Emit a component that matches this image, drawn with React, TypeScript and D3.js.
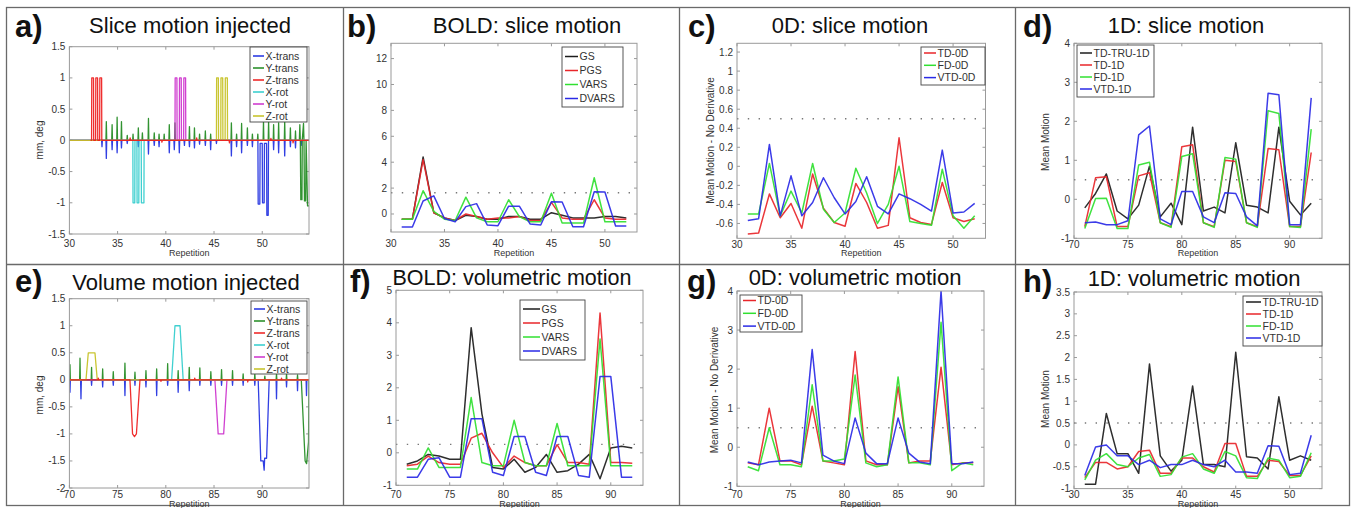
import React from "react";
import * as d3 from "d3";

const FONT = "'Liberation Sans', Arial, Helvetica, sans-serif";

// ---------- repetitions ----------
const repsSlice = [31, 32, 33, 34, 35, 36, 37, 38, 39, 40, 41, 42, 43, 44, 45, 46, 47, 48, 49, 50, 51, 52];
const repsVol = [71, 72, 73, 74, 75, 76, 77, 78, 79, 80, 81, 82, 83, 84, 85, 86, 87, 88, 89, 90, 91, 92];

// ---------- tick labels ----------
const xTicksSlice = [30, 35, 40, 45, 50];
const xTicksVol = [70, 75, 80, 85, 90];
const yTicksA = [-1.5, -1, -0.5, 0, 0.5, 1, 1.5];
const yTicksB = [0, 2, 4, 6, 8, 10, 12];
const yTicksC = [-0.6, -0.4, -0.2, 0, 0.2, 0.4, 0.6, 0.8, 1, 1.2];
const yTicksD = [-1, 0, 1, 2, 3, 4];
const yTicksE = [-2, -1.5, -1, -0.5, 0, 0.5, 1, 1.5];
const yTicksF = [-1, 0, 1, 2, 3, 4, 5];
const yTicksG = [-1, 0, 1, 2, 3, 4];
const yTicksH = [-1, -0.5, 0, 0.5, 1, 1.5, 2, 2.5, 3, 3.5];

// ---------- a) slice motion injected ----------
const aXtransSpikes: [number, number][] = [[33.38, -0.1], [33.83, -0.29], [34.43, -0.15], [34.95, -0.2], [35.4, -0.12], [36.0, -0.05], [37.15, -0.1], [38.2, -0.22], [38.8, -0.08], [39.3, -0.1], [40.36, -0.2], [40.88, -0.15], [41.4, -0.2], [41.93, -0.08], [42.45, -0.1], [42.97, -0.12], [43.5, -0.06], [44.1, -0.08], [44.65, -0.15], [45.25, -0.05], [46.8, -0.25], [47.34, -0.1], [47.86, -0.2], [48.46, -0.08], [48.98, -0.1], [51.18, -0.15], [51.7, -0.2], [52.33, -0.25], [52.92, -0.1], [53.45, -0.12], [54.04, -0.08]];
const aXtransPulse: [number, number][] = [[49.55, 0], [49.58, -1.02], [49.75, -1.02], [49.78, -0.05], [50.0, -0.05], [50.03, -1.0], [50.2, -1.0], [50.23, -0.05], [50.45, -0.05], [50.48, -1.2], [50.62, -1.2], [50.65, 0]];
const aYtransSpikes: [number, number][] = [[33.83, 0.3], [34.43, 0.25], [34.95, 0.37], [35.4, 0.3], [36.0, 0.08], [36.6, 0.1], [37.15, 0.2], [37.57, 0.12], [38.2, 0.35], [38.8, 0.12], [39.3, 0.1], [39.83, 0.1], [40.36, 0.25], [40.95, 0.28], [42.45, 0.22], [42.97, 0.2], [43.5, 0.1], [44.1, 0.15], [44.65, 0.1], [46.8, 0.28], [47.34, 0.1], [47.86, 0.27], [48.46, 0.2], [48.98, 0.1], [49.54, 0.1], [50.13, 0.3], [50.66, 0.3], [51.18, 0.25], [51.7, 0.28], [52.33, 0.3], [52.92, 0.2], [53.45, 0.15]];
const aYtransPulse: [number, number][] = [[53.85, 0], [53.9, 0.25], [53.95, 0], [54.0, -0.95], [54.12, -0.95], [54.15, 0], [54.28, 0.27], [54.33, 0], [54.38, -0.97], [54.5, -0.97], [54.55, 0], [54.7, -1.05], [54.85, -1.05]];
const aZtransSpikes: [number, number][] = [[36.3, 0.04], [39.6, -0.03], [43.2, 0.04], [46.6, -0.04], [50.9, 0.03], [53.2, -0.04]];
const aZtransPulse: [number, number][] = [[32.3, 0], [32.32, 1], [32.5, 1], [32.52, 0], [32.72, 0], [32.74, 1], [32.92, 1], [32.94, 0], [33.14, 0], [33.16, 1], [33.34, 1], [33.36, 0]];
const aXrotPulse: [number, number][] = [[36.58, 0], [36.6, -1], [36.78, -1], [36.8, 0], [37.0, 0], [37.02, -1], [37.2, -1], [37.22, 0], [37.45, 0], [37.47, -1], [37.73, -1], [37.75, 0]];
const aYrotPulse: [number, number][] = [[40.95, 0], [40.97, 1], [41.15, 1], [41.17, 0], [41.4, 0], [41.42, 1], [41.6, 1], [41.62, 0], [41.85, 0], [41.87, 1], [42.05, 1], [42.07, 0]];
const aZrotPulse: [number, number][] = [[45.25, 0], [45.27, 1], [45.45, 1], [45.47, 0], [45.7, 0], [45.72, 1], [45.9, 1], [45.92, 0], [46.15, 0], [46.17, 1], [46.38, 1], [46.4, 0]];

// ---------- e) volume motion injected ----------
const eXtransSpikes: [number, number][] = [[70.06, -0.23], [71.2, -0.35], [72.3, -0.1], [73.45, -0.13], [74.55, -0.1], [75.76, -0.29], [76.8, -0.1], [77.94, -0.13], [79.05, -0.29], [80.19, -0.1], [81.28, -0.23], [82.43, -0.2], [83.53, -0.1], [84.67, -0.1], [85.78, -0.1], [86.92, -0.1], [88.02, -0.1], [89.23, -0.1], [91.48, -0.35], [92.52, -0.13], [93.66, -0.2], [94.59, -0.29]];
const eXtransPulse: [number, number][] = [[89.58, 0], [89.85, -1.5], [90.1, -1.5], [90.2, -1.67], [90.25, -1.45], [90.45, -1.45], [90.72, 0]];
const eYtransSpikes: [number, number][] = [[70.06, 0.28], [71.1, 0.4], [72.3, 0.23], [73.45, 0.2], [74.55, 0.15], [75.76, 0.31], [76.8, 0.14], [77.94, 0.17], [79.05, 0.2], [80.19, 0.3], [81.28, 0.17], [82.43, 0.23], [83.53, 0.22], [84.67, 0.15], [85.78, 0.19], [86.92, 0.17], [88.02, 0.11], [89.23, 0.11], [90.27, 0.07], [91.48, 0.11], [92.52, 0.11], [93.66, 0.09]];
const eYtransPulse: [number, number][] = [[94.05, 0], [94.45, -1.5], [94.6, -1.55], [94.8, -1.15]];
const eZtransSpikes: [number, number][] = [[73.0, 0.03], [79.5, -0.03], [83.0, 0.03], [88.5, -0.04], [92.0, 0.03]];
const eZtransPulse: [number, number][] = [[76.28, 0], [76.55, -1], [76.75, -1.05], [76.95, -1], [77.32, 0]];
const eXrotPulse: [number, number][] = [[80.6, 0], [80.95, 1], [81.47, 1], [81.8, 0]];
const eYrotPulse: [number, number][] = [[85.09, 0], [85.43, -1], [86.0, -1], [86.34, 0]];
const eZrotPulse: [number, number][] = [[71.72, 0], [71.96, 0.5], [72.65, 0.5], [72.89, 0]];

// ---------- b) BOLD: slice motion ----------
const bGS = [-0.4, -0.4, 4.4, 0.1, -0.3, -0.5, -0.1, -0.2, -0.4, -0.4, -0.2, -0.2, -0.4, -0.4, 0.1, -0.1, -0.3, -0.3, -0.3, -0.2, -0.2, -0.3];
const bPGS = [-0.4, -0.4, 4.2, 0.1, -0.3, -0.5, 0.0, -0.2, -0.4, -0.3, -0.3, -0.2, -0.5, -0.5, 0.9, -0.3, -0.4, -0.4, 1.1, -0.3, -0.4, -0.4];
const bVARS = [-0.4, -0.4, 1.8, 0.2, -0.4, -0.5, 1.3, -0.3, -0.6, -0.6, 1.1, -0.2, -0.6, -0.6, 1.6, -0.7, -0.7, -0.7, 2.8, -0.6, -0.6, -0.6];
const bDVARS = [-1.0, -1.0, 1.0, 1.4, -0.35, -0.6, 0.57, 0.8, -0.85, -0.9, 0.6, 0.6, -0.77, -0.85, 0.95, 0.93, -0.98, -0.98, 1.72, 1.7, -0.93, -0.93];

// ---------- c) 0D: slice motion ----------
const cTD = [-0.71, -0.70, -0.29, -0.54, -0.39, -0.65, -0.08, -0.44, -0.59, -0.63, -0.18, -0.38, -0.65, -0.62, 0.30, -0.54, -0.59, -0.61, -0.17, -0.54, -0.58, -0.55];
const cFD = [-0.50, -0.50, 0.03, -0.52, -0.26, -0.49, 0.03, -0.45, -0.59, -0.49, -0.02, -0.28, -0.60, -0.40, 0.0, -0.58, -0.60, -0.62, -0.03, -0.52, -0.65, -0.52];
const cVTD = [-0.57, -0.55, 0.23, -0.52, -0.10, -0.52, -0.38, -0.12, -0.33, -0.50, -0.37, -0.11, -0.42, -0.50, -0.29, -0.34, -0.40, -0.47, 0.17, -0.49, -0.48, -0.39];

// ---------- d) 1D: slice motion ----------
const dTRU = [-0.22, 0.15, 0.65, -0.3, -0.5, -0.15, 0.85, -0.45, -0.1, -0.65, 1.85, -0.3, -0.2, -0.35, 1.45, -0.15, -0.2, -0.35, 1.85, -0.05, -0.4, -0.1];
const dTD = [-0.7, 0.55, 0.58, -0.7, -0.7, 0.6, 0.68, -0.6, -0.7, 1.35, 1.4, -0.6, -0.7, 1.0, 0.97, -0.6, -0.7, 1.3, 1.27, -0.7, -0.7, 1.2];
const dFD = [-0.75, 0.02, 0.03, -0.75, -0.75, 0.88, 0.95, -0.6, -0.72, 1.1, 1.17, -0.6, -0.72, 1.07, 1.03, -0.6, -0.72, 2.27, 2.2, -0.7, -0.72, 1.8];
const dVTD = [-0.6, -0.58, -0.65, -0.65, -0.55, 1.65, 1.88, -0.5, -0.65, 0.2, 0.2, -0.45, -0.6, 0.17, 0.15, -0.45, -0.68, 2.72, 2.68, -0.65, -0.65, 2.6];

// ---------- f) BOLD: volumetric motion ----------
const fGS = [-0.35, -0.25, -0.05, -0.1, -0.2, -0.2, 3.85, 1.2, -0.45, -0.5, -0.2, -0.6, -0.45, -0.05, -0.6, -0.55, -0.35, -0.05, -0.8, 0.15, 0.2, 0.15];
const fPGS = [-0.4, -0.35, -0.1, -0.3, -0.35, -0.35, 0.45, 0.6, 0.0, -0.45, -0.1, -0.3, -0.4, -0.4, 0.25, -0.3, -0.3, -0.35, 4.3, -0.3, -0.3, -0.32];
const fVARS = [-0.5, -0.5, 0.15, -0.45, -0.45, -0.45, 1.7, -0.3, -0.4, -0.4, 1.0, -0.3, -0.4, -0.4, 0.9, -0.4, -0.4, -0.4, 3.5, -0.4, -0.4, -0.4];
const fDVARS = [-0.75, -0.75, -0.2, -0.15, -0.75, -0.75, 1.05, 1.05, -0.6, -0.7, 0.5, 0.5, -0.6, -0.7, 0.5, 0.5, -0.7, -0.75, 2.35, 2.35, -0.75, -0.75];

// ---------- g) 0D: volumetric motion ----------
const gTD = [-0.4, -0.45, 1.0, -0.35, -0.35, -0.45, 1.05, -0.35, -0.4, -0.45, 2.45, -0.35, -0.45, -0.45, 1.55, -0.4, -0.35, -0.35, 2.05, -0.45, -0.4, -0.4];
const gFD = [-0.5, -0.6, 0.5, -0.45, -0.45, -0.5, 1.6, -0.35, -0.35, -0.3, 1.85, -0.4, -0.5, -0.45, 1.8, -0.4, -0.4, -0.45, 3.2, -0.6, -0.4, -0.45];
const gVTD = [-0.38, -0.45, -0.38, -0.35, -0.33, -0.4, 2.5, -0.2, -0.35, -0.42, 0.75, -0.15, -0.42, -0.42, 0.75, -0.15, -0.38, -0.42, 4.0, -0.42, -0.42, -0.38];

// ---------- h) 1D: volumetric motion ----------
const hTRU = [-0.9, -0.9, 0.72, -0.2, -0.2, -0.65, 1.85, -0.25, -0.6, -0.35, 1.35, -0.45, -0.45, -0.5, 2.12, -0.27, -0.3, -0.55, 1.1, -0.35, -0.25, -0.35];
const hTD = [-0.75, -0.4, -0.4, -0.55, -0.5, -0.15, -0.12, -0.65, -0.65, -0.3, -0.3, -0.5, -0.62, 0.03, 0.03, -0.72, -0.72, -0.35, -0.38, -0.7, -0.7, -0.25];
const hFD = [-0.8, -0.35, -0.2, -0.45, -0.5, -0.3, -0.22, -0.72, -0.68, -0.28, -0.2, -0.55, -0.65, -0.15, -0.25, -0.75, -0.77, -0.3, -0.35, -0.75, -0.72, -0.18];
const hVTD = [-0.7, -0.05, 0.0, -0.25, -0.25, -0.45, -0.35, -0.52, -0.45, -0.45, -0.35, -0.45, -0.5, -0.35, -0.62, -0.62, -0.65, -0.02, -0.03, -0.68, -0.65, 0.22];

// ---------- colours ----------
const C_BLACK = "#1c1c1c";
const C_RED = "#e8262a";
const C_GREEN = "#30e030";
const C_BLUE = "#2a2ae6";
const M_BLUE = "#1f2fe0";
const M_GREEN = "#1f8a1f";
const M_RED = "#ee1c1c";
const M_CYAN = "#30cccc";
const M_MAGENTA = "#cc30cc";
const M_OLIVE = "#c4c020";

type Pt = [number, number];
type Series = { name: string; color: string; pts: Pt[] };

const zip = (xs: number[], ys: number[]): Pt[] => xs.map((x, i) => [x, ys[i]] as Pt);

// builds the polyline of a motion trace from its spikes and injected pulses
function trace(start: number, end: number, spikes: Pt[], pulses: Pt[]): Pt[] {
  const pts: Pt[] = [[start, 0]];
  spikes.forEach(([x, h]) => {
    pts.push([x - 0.04, 0], [x, h], [x + 0.04, 0]);
  });
  pulses.forEach((p) => pts.push(p));
  const lastPulse = pulses.length ? pulses[pulses.length - 1][0] : -Infinity;
  if (end > lastPulse) pts.push([end, 0]);
  return pts.sort((a, b) => a[0] - b[0]);
}

type Legend = { x: number; y: number; w: number; h: number; y0: number; dy: number; len: number };
type Panel = {
  letter: string; letterX: number; letterY: number;
  title: string; titleX: number; titleY: number; titleSize?: number;
  L: number; R: number; T: number; B: number;
  xDomain: [number, number]; yDomain: [number, number];
  xTicks: number[]; yTicks: number[];
  xTickY: number; xLabelY: number;
  yLabel?: string; yLabelX?: number; yLabelY?: number;
  threshold?: number;
  series: Series[]; order: number[]; lw: number;
  legend: Legend;
};

const motionNames = ["X-trans", "Y-trans", "Z-trans", "X-rot", "Y-rot", "Z-rot"];
const motionColors = [M_BLUE, M_GREEN, M_RED, M_CYAN, M_MAGENTA, M_OLIVE];

const ROW1_TICK = 246.5;
const ROW1_LABEL = 256;
const ROW2_TICK = 497.5;
const ROW2_LABEL = 507;

const panels: Panel[] = [
  {
    letter: "a)", letterX: 15, letterY: 36.5, title: "Slice motion injected", titleX: 190, titleY: 33,
    L: 69.4, R: 309, T: 46.7, B: 234, xDomain: [30, 54.85], yDomain: [-1.5, 1.5],
    xTicks: xTicksSlice, yTicks: yTicksA, xTickY: ROW1_TICK, xLabelY: ROW1_LABEL,
    yLabel: "mm, deg", yLabelX: 43, yLabelY: 140,
    series: [
      { name: motionNames[0], color: motionColors[0], pts: trace(30, 54.85, aXtransSpikes, aXtransPulse) },
      { name: motionNames[1], color: motionColors[1], pts: trace(30, 54.85, aYtransSpikes, aYtransPulse) },
      { name: motionNames[2], color: motionColors[2], pts: trace(32.2, 54.85, aZtransSpikes, aZtransPulse) },
      { name: motionNames[3], color: motionColors[3], pts: trace(30, 54.85, [], aXrotPulse) },
      { name: motionNames[4], color: motionColors[4], pts: trace(30, 54.85, [], aYrotPulse) },
      { name: motionNames[5], color: motionColors[5], pts: trace(30, 54.85, [], aZrotPulse) },
    ],
    order: [0, 1, 3, 4, 5, 2], lw: 1.3,
    legend: { x: 250, y: 47, w: 57, h: 75, y0: 9, dy: 12, len: 11 },
  },
  {
    letter: "b)", letterX: 347, letterY: 36.5, title: "BOLD: slice motion", titleX: 527, titleY: 33,
    L: 391, R: 637, T: 43.3, B: 232, xDomain: [30, 53], yDomain: [-1.39, 13.18],
    xTicks: xTicksSlice, yTicks: yTicksB, xTickY: ROW1_TICK, xLabelY: ROW1_LABEL, threshold: 1.64,
    series: [
      { name: "GS", color: C_BLACK, pts: zip(repsSlice, bGS) },
      { name: "PGS", color: C_RED, pts: zip(repsSlice, bPGS) },
      { name: "VARS", color: C_GREEN, pts: zip(repsSlice, bVARS) },
      { name: "DVARS", color: C_BLUE, pts: zip(repsSlice, bDVARS) },
    ],
    order: [0, 1, 2, 3], lw: 1.5,
    legend: { x: 562, y: 47, w: 61, h: 60, y0: 9.5, dy: 14, len: 13 },
  },
  {
    letter: "c)", letterX: 688, letterY: 36.5, title: "0D: slice motion", titleX: 850, titleY: 33,
    L: 737, R: 985.5, T: 43.3, B: 238.3, xDomain: [30, 53], yDomain: [-0.756, 1.292],
    xTicks: xTicksSlice, yTicks: yTicksC, xTickY: ROW1_TICK + 1, xLabelY: ROW1_LABEL, threshold: 0.5,
    yLabel: "Mean Motion - No Derivative", yLabelX: 714, yLabelY: 140.5,
    series: [
      { name: "TD-0D", color: C_RED, pts: zip(repsSlice, cTD) },
      { name: "FD-0D", color: C_GREEN, pts: zip(repsSlice, cFD) },
      { name: "VTD-0D", color: C_BLUE, pts: zip(repsSlice, cVTD) },
    ],
    order: [0, 1, 2], lw: 1.5,
    legend: { x: 921, y: 47, w: 64, h: 38, y0: 6, dy: 12.3, len: 12 },
  },
  {
    letter: "d)", letterX: 1023, letterY: 36.5, title: "1D: slice motion", titleX: 1186, titleY: 33,
    L: 1074, R: 1322, T: 43.3, B: 238.3, xDomain: [70, 93], yDomain: [-1, 4],
    xTicks: xTicksVol, yTicks: yTicksD, xTickY: ROW1_TICK + 1, xLabelY: ROW1_LABEL, threshold: 0.5,
    yLabel: "Mean Motion", yLabelX: 1049, yLabelY: 142,
    series: [
      { name: "TD-TRU-1D", color: C_BLACK, pts: zip(repsVol, dTRU) },
      { name: "TD-1D", color: C_RED, pts: zip(repsVol, dTD) },
      { name: "FD-1D", color: C_GREEN, pts: zip(repsVol, dFD) },
      { name: "VTD-1D", color: C_BLUE, pts: zip(repsVol, dVTD) },
    ],
    order: [0, 1, 2, 3], lw: 1.5,
    legend: { x: 1077, y: 45, w: 77, h: 52, y0: 8, dy: 12, len: 12 },
  },
  {
    letter: "e)", letterX: 15, letterY: 291.5, title: "Volume motion injected", titleX: 186, titleY: 290,
    L: 69.4, R: 309, T: 298.7, B: 488, xDomain: [70, 94.85], yDomain: [-2, 1.5],
    xTicks: xTicksVol, yTicks: yTicksE, xTickY: ROW2_TICK, xLabelY: ROW2_LABEL,
    yLabel: "mm, deg", yLabelX: 43, yLabelY: 395,
    series: [
      { name: motionNames[0], color: motionColors[0], pts: trace(70, 94.85, eXtransSpikes, eXtransPulse) },
      { name: motionNames[1], color: motionColors[1], pts: trace(70, 94.85, eYtransSpikes, eYtransPulse) },
      { name: motionNames[2], color: motionColors[2], pts: trace(70, 94.85, eZtransSpikes, eZtransPulse) },
      { name: motionNames[3], color: motionColors[3], pts: trace(70, 94.85, [], eXrotPulse) },
      { name: motionNames[4], color: motionColors[4], pts: trace(70, 94.85, [], eYrotPulse) },
      { name: motionNames[5], color: motionColors[5], pts: trace(70, 94.85, [], eZrotPulse) },
    ],
    order: [0, 1, 3, 4, 5, 2], lw: 1.3,
    legend: { x: 251, y: 301, w: 56, h: 73, y0: 8, dy: 12, len: 11 },
  },
  {
    letter: "f)", letterX: 350, letterY: 291.5, title: "BOLD: volumetric motion", titleX: 512, titleY: 284.5, titleSize: 21.5,
    L: 396, R: 643, T: 290.3, B: 485.3, xDomain: [70, 93], yDomain: [-1, 5],
    xTicks: xTicksVol, yTicks: yTicksF, xTickY: ROW2_TICK, xLabelY: ROW2_LABEL, threshold: 0.26,
    series: [
      { name: "GS", color: C_BLACK, pts: zip(repsVol, fGS) },
      { name: "PGS", color: C_RED, pts: zip(repsVol, fPGS) },
      { name: "VARS", color: C_GREEN, pts: zip(repsVol, fVARS) },
      { name: "DVARS", color: C_BLUE, pts: zip(repsVol, fDVARS) },
    ],
    order: [0, 1, 2, 3], lw: 1.5,
    legend: { x: 520, y: 300, w: 65, h: 60, y0: 9, dy: 14, len: 17 },
  },
  {
    letter: "g)", letterX: 687, letterY: 291.5, title: "0D: volumetric motion", titleX: 855, titleY: 285,
    L: 737, R: 984, T: 291, B: 486.3, xDomain: [70, 93], yDomain: [-1, 4],
    xTicks: xTicksVol, yTicks: yTicksG, xTickY: ROW2_TICK, xLabelY: ROW2_LABEL, threshold: 0.5,
    yLabel: "Mean Motion - No Derivative", yLabelX: 718, yLabelY: 390,
    series: [
      { name: "TD-0D", color: C_RED, pts: zip(repsVol, gTD) },
      { name: "FD-0D", color: C_GREEN, pts: zip(repsVol, gFD) },
      { name: "VTD-0D", color: C_BLUE, pts: zip(repsVol, gVTD) },
    ],
    order: [0, 1, 2], lw: 1.5,
    legend: { x: 740, y: 295, w: 62, h: 37, y0: 5.5, dy: 12.8, len: 13 },
  },
  {
    letter: "h)", letterX: 1023, letterY: 291.5, title: "1D: volumetric motion", titleX: 1194, titleY: 286,
    L: 1074, R: 1322, T: 292, B: 488.6, xDomain: [30, 53], yDomain: [-1, 3.5],
    xTicks: xTicksSlice, yTicks: yTicksH, xTickY: ROW2_TICK, xLabelY: ROW2_LABEL, threshold: 0.5,
    yLabel: "Mean Motion", yLabelX: 1049, yLabelY: 399,
    series: [
      { name: "TD-TRU-1D", color: C_BLACK, pts: zip(repsSlice, hTRU) },
      { name: "TD-1D", color: C_RED, pts: zip(repsSlice, hTD) },
      { name: "FD-1D", color: C_GREEN, pts: zip(repsSlice, hFD) },
      { name: "VTD-1D", color: C_BLUE, pts: zip(repsSlice, hVTD) },
    ],
    order: [0, 1, 2, 3], lw: 1.5,
    legend: { x: 1243, y: 296, w: 79, h: 50, y0: 6, dy: 12, len: 15 },
  },
];

const fmt = (v: number) => String(Math.round(v * 10) / 10);

function PanelView({ p, idx }: { p: Panel; idx: number }) {
  const x = d3.scaleLinear().domain(p.xDomain).range([p.L, p.R]);
  const y = d3.scaleLinear().domain(p.yDomain).range([p.B, p.T]);
  const line = d3.line<Pt>().x((d) => x(d[0])).y((d) => y(d[1]));
  const clipId = `clip-${idx}`;
  const tk = 3;
  const axisColor = "#9a9a9a";
  const lg = p.legend;
  return (
    <g>
      <defs>
        <clipPath id={clipId}>
          <rect x={p.L} y={p.T} width={p.R - p.L} height={p.B - p.T} />
        </clipPath>
      </defs>
      {/* ticks */}
      {p.yTicks.map((v) => (
        <g key={"yt" + v}>
          <line x1={p.L} x2={p.L + tk} y1={y(v)} y2={y(v)} stroke={axisColor} />
          <line x1={p.R} x2={p.R - tk} y1={y(v)} y2={y(v)} stroke={axisColor} />
          <text x={p.L - 4} y={y(v) + 3.5} fontSize={10} textAnchor="end" fill="#333" fontFamily={FONT}>
            {fmt(v)}
          </text>
        </g>
      ))}
      {p.xTicks.map((v) => (
        <g key={"xt" + v}>
          <line x1={x(v)} x2={x(v)} y1={p.B} y2={p.B - tk} stroke={axisColor} />
          <line x1={x(v)} x2={x(v)} y1={p.T} y2={p.T + tk} stroke={axisColor} />
          <text x={x(v)} y={p.xTickY} fontSize={10} textAnchor="middle" fill="#333" fontFamily={FONT}>
            {fmt(v)}
          </text>
        </g>
      ))}
      {/* threshold */}
      {p.threshold !== undefined && (
        <line
          x1={p.L}
          x2={p.R}
          y1={y(p.threshold)}
          y2={y(p.threshold)}
          stroke="#777"
          strokeWidth={1.4}
          strokeDasharray="1.4 9.4"
        />
      )}
      {/* data */}
      <g clipPath={`url(#${clipId})`}>
        {p.order.map((i) => {
          const s = p.series[i];
          return (
            <path
              key={s.name}
              d={line(s.pts) || ""}
              fill="none"
              stroke={s.color}
              strokeWidth={p.lw}
              strokeLinejoin="round"
              opacity={0.92}
            />
          );
        })}
      </g>
      {/* box */}
      <rect x={p.L} y={p.T} width={p.R - p.L} height={p.B - p.T} fill="none" stroke={axisColor} strokeWidth={1} />
      {/* legend */}
      <rect x={lg.x} y={lg.y} width={lg.w} height={lg.h} fill="#fff" stroke="#444" strokeWidth={0.9} />
      {p.series.map((s, i) => {
        const yy = lg.y + lg.y0 + i * lg.dy;
        return (
          <g key={"lg" + s.name}>
            <line x1={lg.x + 3} x2={lg.x + 3 + lg.len} y1={yy} y2={yy} stroke={s.color} strokeWidth={1.5} />
            <text x={lg.x + lg.len + 4.5} y={yy + 3.6} fontSize={10.5} fill="#333" fontFamily={FONT}>
              {s.name}
            </text>
          </g>
        );
      })}
      {/* labels */}
      <text x={(p.L + p.R) / 2} y={p.xLabelY} fontSize={9} textAnchor="middle" fill="#333" fontFamily={FONT}>
        Repetition
      </text>
      {p.yLabel && (
        <text
          transform={`translate(${p.yLabelX},${p.yLabelY}) rotate(-90)`}
          fontSize={10}
          textAnchor="middle"
          fill="#333"
          fontFamily={FONT}
        >
          {p.yLabel}
        </text>
      )}
      <text x={p.titleX} y={p.titleY} fontSize={p.titleSize ?? 22} textAnchor="middle" fill="#111" fontFamily={FONT}>
        {p.title}
      </text>
      <text x={p.letterX} y={p.letterY} fontSize={31} fontWeight="bold" fill="#111" fontFamily={FONT}>
        {p.letter}
      </text>
    </g>
  );
}

export default function App() {
  const W = 1354;
  const H = 508;
  const frame = "#6a6a6a";
  return (
    <svg
      width={W}
      height={H}
      viewBox={`0 0 ${W} ${H}`}
      style={{ position: "absolute", left: 0, top: 0, background: "#fff" }}
    >
      <rect x={0} y={0} width={W} height={H} fill="#fff" />
      {/* frame */}
      <rect x={6.5} y={7.5} width={1343} height={498} fill="none" stroke={frame} strokeWidth={1.3} />
      <line x1={6.5} x2={1349.5} y1={264.5} y2={264.5} stroke={frame} strokeWidth={1.3} />
      <line x1={343.5} x2={343.5} y1={7.5} y2={505.5} stroke={frame} strokeWidth={1.3} />
      <line x1={679.5} x2={679.5} y1={7.5} y2={505.5} stroke={frame} strokeWidth={1.3} />
      <line x1={1015.5} x2={1015.5} y1={7.5} y2={505.5} stroke={frame} strokeWidth={1.3} />
      {panels.map((p, i) => (
        <PanelView key={p.letter} p={p} idx={i} />
      ))}
    </svg>
  );
}
